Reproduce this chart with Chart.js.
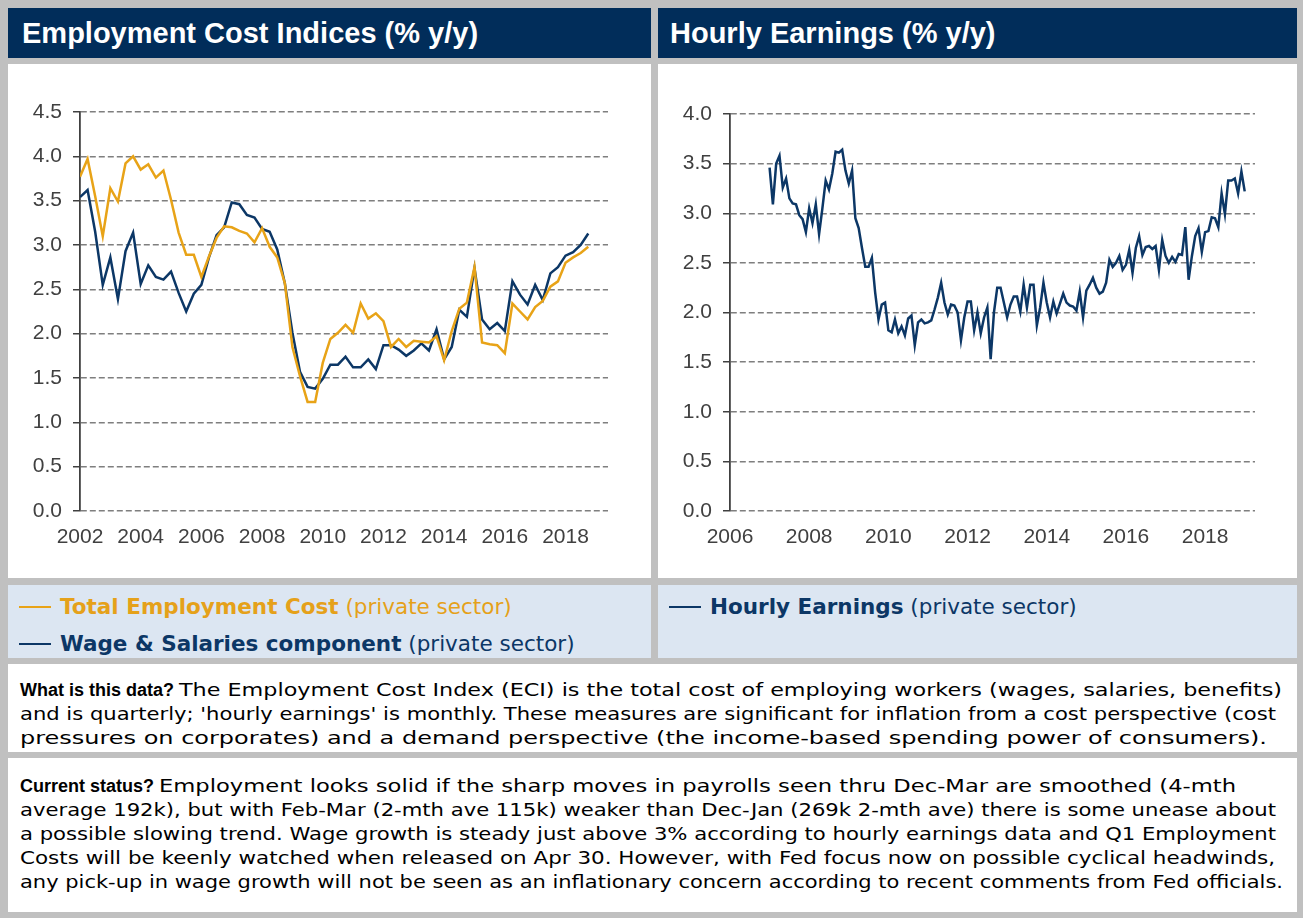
<!DOCTYPE html>
<html>
<head>
<meta charset="utf-8">
<title>Employment Cost Indices / Hourly Earnings</title>
<script src="https://cdn.jsdelivr.net/npm/chart.js@4.4.1/dist/chart.umd.min.js"></script>
<style>
  html, body { margin: 0; padding: 0; }
  body {
    width: 1303px; height: 918px; position: relative; overflow: hidden;
    background: #c0c0c0;
    font-family: "Liberation Sans", Arial, sans-serif;
  }
  .panel { position: absolute; }
  .head {
    background: #012d5a; color: #fff;
    font-weight: bold; font-size: 29px; line-height: 51px;
    padding-left: 14px; box-sizing: border-box; white-space: nowrap;
  }
  .plot { background: #fff; }
  .legend { background: #dce6f2; font-family: "DejaVu Sans", Verdana, sans-serif; font-size: 21.5px; }
  .legend .item { position: absolute; left: 11px; white-space: nowrap; line-height: 24px; }
  .legend .swatch { display: inline-block; width: 32px; height: 2px; vertical-align: middle; margin-right: 9px; position: relative; top: -1px; }
  .note {
    background: #fff; color: #000; font-size: 18px; line-height: 24px;
    padding: 14px 0 0 12px; box-sizing: border-box; white-space: nowrap;
  }
  .note .line { display: block; width: max-content; }
  .note .reg { display: inline-block; transform-origin: 0 50%; font-family: "DejaVu Sans", Verdana, sans-serif; font-size: 18.5px; }
  canvas { position: absolute; top: 0; left: 0; }
</style>
</head>
<body>

<div class="panel head" style="left:8px; top:8px; width:643px; height:50px;">Employment Cost Indices (% y/y)</div>
<div class="panel head" style="left:658px; top:8px; width:639px; height:50px; padding-left:12px;">Hourly Earnings (% y/y)</div>

<div class="panel plot" style="left:8px; top:64px; width:643px; height:514px;">
  <canvas id="eciChart" width="643" height="514"></canvas>
</div>
<div class="panel plot" style="left:658px; top:64px; width:639px; height:514px;">
  <canvas id="ahChart" width="639" height="514"></canvas>
</div>

<div class="panel legend" style="left:8px; top:585px; width:643px; height:73px;">
  <div class="item" style="top:10px; color:#e5a11a;"><span class="swatch" style="background:#e8a317;"></span><b>Total Employment Cost</b> (private sector)</div>
  <div class="item" style="top:47px; color:#0c3766;"><span class="swatch" style="background:#0c3766;"></span><b>Wage &amp; Salaries component</b> (private sector)</div>
</div>
<div class="panel legend" style="left:658px; top:585px; width:639px; height:73px;">
  <div class="item" style="top:10px; color:#0c3766;"><span class="swatch" style="background:#0c3766;"></span><b>Hourly Earnings</b> (private sector)</div>
</div>

<div class="panel note" style="left:8px; top:664px; width:1289px; height:88px;">
  <span class="line" data-right="1282"><b>What is this data?</b> <span class="reg">The Employment Cost Index (ECI) is the total cost of employing workers (wages, salaries, benefits)</span></span>
  <span class="line" data-right="1276"><span class="reg">and is quarterly; 'hourly earnings' is monthly. These measures are significant for inflation from a cost perspective (cost</span></span>
  <span class="line" data-right="1267"><span class="reg">pressures on corporates) and a demand perspective (the income-based spending power of consumers).</span></span>
</div>
<div class="panel note" style="left:8px; top:758px; width:1289px; height:154px; padding-top:16px;">
  <span class="line" data-right="1236"><b>Current status?</b> <span class="reg">Employment looks solid if the sharp moves in payrolls seen thru Dec-Mar are smoothed (4-mth</span></span>
  <span class="line" data-right="1276"><span class="reg">average 192k), but with Feb-Mar (2-mth ave 115k) weaker than Dec-Jan (269k 2-mth ave) there is some unease about</span></span>
  <span class="line" data-right="1276"><span class="reg">a possible slowing trend. Wage growth is steady just above 3% according to hourly earnings data and Q1 Employment</span></span>
  <span class="line" data-right="1275"><span class="reg">Costs will be keenly watched when released on Apr 30. However, with Fed focus now on possible cyclical headwinds,</span></span>
  <span class="line" data-right="1283"><span class="reg">any pick-up in wage growth will not be seen as an inflationary concern according to recent comments from Fed officials.</span></span>
</div>

<script>
// ECI, quarterly from 2002 Q1
const eciStartYear = 2002;
const totalEmploymentCost = [
  3.77, 3.97, 3.55, 3.10, 3.64, 3.49, 3.92, 4.00, 3.85, 3.91,
  3.76, 3.84, 3.51, 3.14, 2.89, 2.89, 2.64, 2.87, 3.08, 3.21,
  3.20, 3.16, 3.13, 3.03, 3.19, 2.98, 2.86, 2.57, 1.85, 1.52,
  1.23, 1.23, 1.67, 1.94, 2.01, 2.10, 2.01, 2.34, 2.17, 2.23,
  2.14, 1.85, 1.94, 1.85, 1.92, 1.91, 1.90, 1.97, 1.70, 2.03,
  2.28, 2.35, 2.75, 1.90, 1.88, 1.87, 1.78, 2.34, 2.25, 2.16,
  2.30, 2.37, 2.53, 2.59, 2.80, 2.86, 2.91, 2.98
];
const wageSalaries = [
  3.54, 3.62, 3.15, 2.55, 2.86, 2.39, 2.93, 3.14, 2.56, 2.77,
  2.64, 2.61, 2.70, 2.46, 2.25, 2.45, 2.55, 2.86, 3.11, 3.20,
  3.48, 3.46, 3.34, 3.31, 3.18, 3.15, 2.95, 2.57, 2.01, 1.57,
  1.40, 1.38, 1.49, 1.65, 1.65, 1.74, 1.62, 1.62, 1.71, 1.60,
  1.87, 1.87, 1.82, 1.75, 1.81, 1.89, 1.81, 2.05, 1.71, 1.85,
  2.27, 2.19, 2.74, 2.16, 2.05, 2.12, 2.03, 2.59, 2.44, 2.33,
  2.55, 2.38, 2.68, 2.75, 2.88, 2.92, 3.00, 3.13
];

// Hourly earnings, monthly from 2007
const ahStartYear = 2007;
const hourlyEarnings = [
  3.46, 3.09, 3.50, 3.58, 3.26, 3.35, 3.15, 3.10, 3.09, 2.98,
  2.94, 2.81, 3.05, 2.90, 3.09, 2.79, 3.05, 3.33, 3.24, 3.40,
  3.62, 3.61, 3.64, 3.43, 3.30, 3.43, 2.95, 2.85, 2.65, 2.46,
  2.46, 2.55, 2.20, 1.93, 2.08, 2.10, 1.82, 1.80, 1.93, 1.79,
  1.86, 1.77, 1.94, 1.97, 1.67, 1.90, 1.93, 1.89, 1.90, 1.92,
  2.03, 2.15, 2.30, 2.10, 1.98, 2.08, 2.07, 2.00, 1.72, 1.95,
  2.11, 2.11, 1.82, 2.00, 1.79, 1.95, 2.05, 1.53, 2.00, 2.25,
  2.25, 2.10, 1.95, 2.08, 2.16, 2.16, 2.01, 2.28, 2.05, 2.28,
  2.28, 1.87, 2.05, 2.30, 2.10, 1.95, 2.11, 1.99, 2.09, 2.19,
  2.10, 2.07, 2.06, 2.02, 2.21, 1.95, 2.22, 2.28, 2.35, 2.25,
  2.19, 2.21, 2.30, 2.53, 2.46, 2.50, 2.57, 2.43, 2.48, 2.63,
  2.40, 2.65, 2.77, 2.58, 2.66, 2.67, 2.64, 2.67, 2.43, 2.73,
  2.57, 2.50, 2.56, 2.51, 2.59, 2.58, 2.86, 2.33, 2.57, 2.77,
  2.85, 2.61, 2.81, 2.82, 2.96, 2.95, 2.86, 3.20, 2.99, 3.33,
  3.33, 3.35, 3.20, 3.42, 3.22
];

const eciYearTicks = [2002, 2004, 2006, 2008, 2010, 2012, 2014, 2016, 2018];
const ahYearTicks = [2006, 2008, 2010, 2012, 2014, 2016, 2018];

const ORANGE = '#e8a317';
const NAVY = '#0c3766';
const TICK_TEXT = '#404040';

function toPoints(values, startYear, perYear) {
  return values.map((v, i) => ({ x: startYear + i / perYear, y: v }));
}

function lineSet(label, data, color) {
  return {
    label: label,
    data: data,
    borderColor: color,
    backgroundColor: color,
    borderWidth: 2.5,
    pointRadius: 0,
    tension: 0,
    fill: false
  };
}

function makeChart(canvasId, datasets, xMin, xMax, yMax, yearTicks, padding) {
  return new Chart(document.getElementById(canvasId), {
    type: 'line',
    data: { datasets: datasets },
    options: {
      responsive: false,
      animation: false,
      devicePixelRatio: 1,
      layout: { padding: padding },
      plugins: { legend: { display: false }, tooltip: { enabled: false } },
      scales: {
        x: {
          type: 'linear',
          min: xMin,
          max: xMax,
          afterBuildTicks: (scale) => {
            scale.ticks = yearTicks.map(v => ({ value: v }));
          },
          afterFit: (scale) => { scale.height = 67; },
          ticks: {
            autoSkip: false,
            maxRotation: 0,
            padding: 14,
            color: TICK_TEXT,
            font: { family: 'Liberation Sans', size: 21 },
            callback: (v) => String(v)
          },
          grid: { display: false, drawTicks: false },
          border: { display: false }
        },
        y: {
          min: 0,
          max: yMax,
          afterFit: (scale) => { scale.width = 72; },
          ticks: {
            stepSize: 0.5,
            padding: 11,
            color: TICK_TEXT,
            font: { family: 'Liberation Sans', size: 21 },
            callback: (v) => v.toFixed(1)
          },
          grid: {
            color: '#7f7f7f',
            lineWidth: 1.5,
            tickLength: 7,
            tickColor: '#404040',
            tickWidth: 1.5,
            tickBorderDash: []
          },
          border: { display: true, color: '#404040', width: 1.8, dash: [6, 3] }
        }
      }
    }
  });
}

makeChart('eciChart', [
  lineSet('Total Employment Cost', toPoints(totalEmploymentCost, eciStartYear, 4), ORANGE),
  lineSet('Wage & Salaries component', toPoints(wageSalaries, eciStartYear, 4), NAVY)
], 2002, 2019.4, 4.5, eciYearTicks, { left: 0, right: 43, top: 48, bottom: 0 });

makeChart('ahChart', [
  lineSet('Hourly Earnings', toPoints(hourlyEarnings, ahStartYear, 12), NAVY)
], 2006, 2019.26, 4.0, ahYearTicks, { left: 0, right: 42, top: 50, bottom: 0 });

// Body text: nudge each line's plain part so it ends where the reference line ends.
document.querySelectorAll('.note .line').forEach(line => {
  const reg = line.querySelector('.reg');
  const r = reg.getBoundingClientRect();
  const k = (Number(line.dataset.right) - r.left) / r.width;
  reg.style.transform = 'scaleX(' + k.toFixed(4) + ')';
});
</script>
</body>
</html>
